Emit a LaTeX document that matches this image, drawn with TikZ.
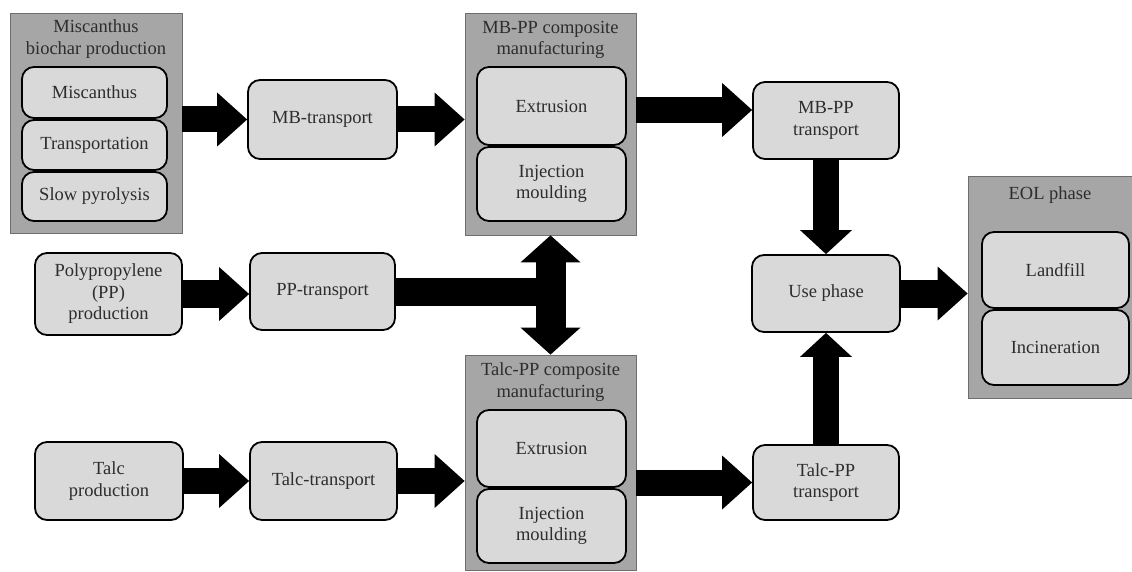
\documentclass[tikz,border=0pt]{standalone}
\usepackage{fontspec}
\setmainfont{Liberation Serif}
\usetikzlibrary{arrows.meta,calc}
\definecolor{grpfill}{RGB}{166,166,166}
\definecolor{grpline}{RGB}{110,110,110}
\definecolor{boxfill}{RGB}{217,217,217}
\definecolor{txt}{RGB}{45,45,45}
\begin{document}
\begin{tikzpicture}[x=1pt,y=-1pt,
  grp/.style={draw=grpline, line width=0.8pt, fill=grpfill, rectangle, inner sep=0pt},
  box/.style={draw=black, line width=1.8pt, fill=boxfill, rounded corners=12pt, inner sep=0pt, align=center, text=txt, font=\fontsize{18.5}{21.5}\selectfont},
  ttl/.style={align=center, text=txt, font=\fontsize{18.5}{21.5}\selectfont, inner sep=0pt},
  barrow/.style={line width=26pt, black, -{Triangle[length=30pt,width=54pt,line width=0pt]}},
  varrow/.style={line width=26pt, black, -{Triangle[length=24pt,width=52pt,line width=0pt]}},
  dblarrow/.style={line width=30pt, black, {Triangle[length=27pt,width=60pt,line width=0pt]}-{Triangle[length=27pt,width=60pt,line width=0pt]}}
]
\useasboundingbox (0,0) rectangle (1132,572);
\fill[white] (0,0) rectangle (1132,572);

% Miscanthus biochar production group
\node[grp, minimum width=172pt, minimum height=220pt] (mbgrp) at (96,123) {};
\node[ttl] (mbgrpt) at (96,39) {Miscanthus\\biochar production};
\node[box, minimum width=145pt, minimum height=51pt] (mis) at (94.5,92.5) {Miscanthus};
\node[box, minimum width=145pt, minimum height=50pt] (trans) at (94.5,145) {Transportation};
\node[box, minimum width=145pt, minimum height=49pt] (pyro) at (94.5,196.5) {Slow pyrolysis};

% MB transport
\node[box, minimum width=149pt, minimum height=79pt] (mbtr) at (322.5,119.5) {MB-transport};

% MB-PP composite manufacturing group
\node[grp, minimum width=171pt, minimum height=222pt] (mbpp) at (550.5,124) {};
\node[ttl] (mbppt) at (550.5,40) {MB-PP composite\\manufacturing};
\node[box, minimum width=149pt, minimum height=78pt] (ext1) at (551.5,106) {Extrusion};
\node[box, minimum width=149pt, minimum height=74pt] (inj1) at (551.5,184) {Injection\\moulding};

% MB-PP transport
\node[box, minimum width=146pt, minimum height=77pt] (mbpptr) at (826,120.5) {MB-PP\\transport};

% Use phase
\node[box, minimum width=148pt, minimum height=77pt] (use) at (826,293.5) {Use phase};

% EOL group
\node[grp, minimum width=164pt, minimum height=222pt] (eol) at (1050,287) {};
\node[ttl] (eolt) at (1050,195) {EOL phase};
\node[box, minimum width=147pt, minimum height=76pt] (land) at (1055.5,270) {Landfill};
\node[box, minimum width=147pt, minimum height=75pt] (inc) at (1055.5,347.5) {Incineration};

% PP row
\node[box, minimum width=147pt, minimum height=82pt] (pp) at (108.5,294) {Polypropylene\\(PP)\\production};
\node[box, minimum width=145pt, minimum height=77pt] (pptr) at (322.5,291.5) {PP-transport};

% Talc-PP composite manufacturing group
\node[grp, minimum width=171pt, minimum height=215pt] (tpp) at (550.5,462.5) {};
\node[ttl] (tppt) at (550.5,382) {Talc-PP composite\\manufacturing};
\node[box, minimum width=149pt, minimum height=77pt] (ext2) at (551.5,448.5) {Extrusion};
\node[box, minimum width=149pt, minimum height=74pt] (inj2) at (551.5,526) {Injection\\moulding};

% Talc row
\node[box, minimum width=148pt, minimum height=78pt] (talc) at (109,481) {Talc\\production};
\node[box, minimum width=147pt, minimum height=78pt] (talctr) at (323.5,481) {Talc-transport};
\node[box, minimum width=146pt, minimum height=75pt] (tpptr) at (826,482.5) {Talc-PP\\transport};

% Arrows
\draw[barrow] (mbgrp.east |- mbtr.west) -- (mbtr.west);
\draw[barrow] (mbtr.east) -- (mbtr.east -| mbpp.west);
\coordinate (a3) at ([yshift=14pt]mbpp.east);
\draw[barrow] (a3) -- (a3 -| mbpptr.west);
\draw[varrow] (mbpptr.south) -- (use.north);
\draw[varrow] (tpptr.north) -- (use.south);
\draw[barrow, line width=28pt] (use.east) -- (use.east -| eol.west);
\draw[barrow, line width=28pt] (pp.east) -- (pp.east -| pptr.west);
\draw[line width=28pt, black] (pptr.east) -- (pptr.east -| mbpp.south);
\draw[dblarrow] (mbpp.south) -- (tpp.north);
\draw[barrow] (talc.east) -- (talc.east -| talctr.west);
\draw[barrow] (talctr.east) -- (talctr.east -| tpp.west);
\draw[barrow] (tpp.east |- tpptr.west) -- (tpptr.west);
\end{tikzpicture}
\end{document}
